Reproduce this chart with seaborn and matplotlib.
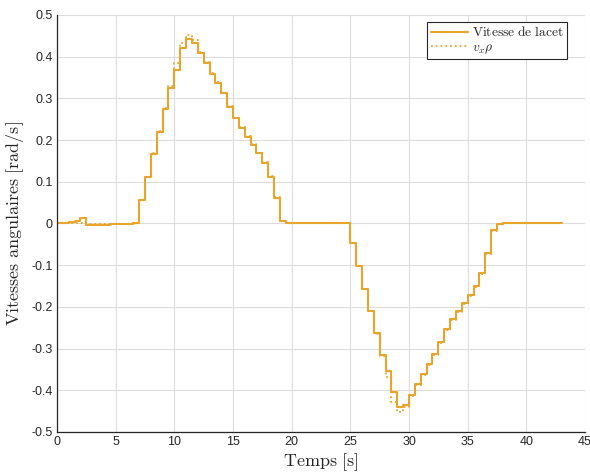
import numpy as np
import pandas as pd
import matplotlib
matplotlib.use("Agg")
import matplotlib.pyplot as plt
import seaborn as sns

# ---- data (sampled every 0.5 s) ----
time_s = [0.0, 0.5, 1.0, 1.5, 2.0, 2.5, 3.0, 3.5, 4.0, 4.5, 5.0, 5.5, 6.0, 6.5,
          7.0, 7.5, 8.0, 8.5, 9.0, 9.5, 10.0, 10.5, 11.0, 11.5, 12.0, 12.5,
          13.0, 13.5, 14.0, 14.5, 15.0, 15.5, 16.0, 16.5, 17.0, 17.5, 18.0,
          18.5, 19.0, 19.5, 20.0, 20.5, 21.0, 21.5, 22.0, 22.5, 23.0, 23.5,
          24.0, 24.5, 25.0, 25.5, 26.0, 26.5, 27.0, 27.5, 28.0, 28.5, 29.0,
          29.5, 30.0, 30.5, 31.0, 31.5, 32.0, 32.5, 33.0, 33.5, 34.0, 34.5,
          35.0, 35.5, 36.0, 36.5, 37.0, 37.5, 38.0, 38.5, 39.0, 39.5, 40.0,
          40.5, 41.0, 41.5, 42.0, 42.5, 43.0]

vitesse_lacet = [0.0, 0.0, 0.004, 0.007, 0.012, -0.004, -0.004, -0.003, -0.003,
                 -0.002, -0.002, -0.001, -0.001, 0.002,
                 0.056, 0.111, 0.167, 0.220, 0.274, 0.325, 0.367, 0.421, 0.442,
                 0.433, 0.410, 0.385, 0.359, 0.337, 0.312, 0.280, 0.252, 0.230,
                 0.207, 0.188, 0.168, 0.146, 0.112, 0.061, 0.006, 0.001,
                 0.0, 0.0, 0.0, 0.0, 0.0, 0.0, 0.0, 0.0, 0.0, 0.0,
                 -0.046, -0.101, -0.156, -0.209, -0.262, -0.315, -0.353, -0.405,
                 -0.439, -0.435, -0.412, -0.386, -0.361, -0.337, -0.314, -0.284,
                 -0.254, -0.230, -0.210, -0.190, -0.171, -0.150, -0.119, -0.070,
                 -0.016, -0.002, 0.0, 0.0, 0.0, 0.0, 0.0, 0.0, 0.0, 0.0, 0.0,
                 0.0, 0.0]

vx_rho = [0.0, 0.0, 0.0, 0.0, 0.0, -0.001, -0.001, -0.001, -0.001,
          -0.001, -0.001, -0.001, -0.001, 0.001,
          0.057, 0.112, 0.168, 0.222, 0.276, 0.329, 0.384, 0.433, 0.453,
          0.440, 0.412, 0.387, 0.361, 0.339, 0.314, 0.282, 0.254, 0.232,
          0.209, 0.190, 0.170, 0.148, 0.114, 0.063, 0.007, 0.001,
          0.0, 0.0, 0.0, 0.0, 0.0, 0.0, 0.0, 0.0, 0.0, 0.0,
          -0.047, -0.102, -0.157, -0.211, -0.264, -0.318, -0.368, -0.428,
          -0.452, -0.440, -0.414, -0.388, -0.363, -0.339, -0.316, -0.286,
          -0.256, -0.232, -0.212, -0.192, -0.173, -0.152, -0.121, -0.072,
          -0.017, -0.002, 0.0, 0.0, 0.0, 0.0, 0.0, 0.0, 0.0, 0.0, 0.0,
          0.0, 0.0]

x_ticks = [0, 5, 10, 15, 20, 25, 30, 35, 40, 45]
y_ticks = [-0.5, -0.4, -0.3, -0.2, -0.1, 0.0, 0.1, 0.2, 0.3, 0.4, 0.5]
y_tick_labels = ["-0.5", "-0.4", "-0.3", "-0.2", "-0.1", "0", "0.1", "0.2",
                 "0.3", "0.4", "0.5"]

labels = [r"$\mathrm{Vitesse\ de\ lacet}$", r"$v_x\rho$"]

# ---- style ----
sns.set_theme(style="white")
plt.rcParams["font.family"] = ["Liberation Sans", "DejaVu Sans"]
plt.rcParams["mathtext.fontset"] = "cm"

color = "#E9A42C"
dark = "#262626"

df = pd.DataFrame({"t": time_s, "lacet": vitesse_lacet, "vxrho": vx_rho})

fig = plt.figure(figsize=(5.9, 4.73), dpi=100)
ax = fig.add_axes([0.0966, 0.0867, 0.895, 0.8816])

sns.lineplot(data=df, x="t", y="lacet", ax=ax, color=color, lw=1.5,
             drawstyle="steps-post", label=labels[0], estimator=None)
sns.lineplot(data=df, x="t", y="vxrho", ax=ax, color=color, lw=1.3,
             linestyle=":", drawstyle="steps-post", label=labels[1],
             estimator=None)

ax.set_xlim(0, 45)
ax.set_ylim(-0.5, 0.5)
ax.set_xticks(x_ticks)
ax.set_xticklabels([str(v) for v in x_ticks])
ax.set_yticks(y_ticks)
ax.set_yticklabels(y_tick_labels)

ax.grid(True, color="#DCDCDC", lw=0.8)
ax.set_axisbelow(True)
for side in ["top", "right"]:
    ax.spines[side].set_visible(False)
for side in ["left", "bottom"]:
    ax.spines[side].set_color(dark)
    ax.spines[side].set_linewidth(0.9)

ax.tick_params(axis="both", direction="in", length=4, width=0.8,
               colors=dark, labelsize=9, pad=3)
ax.tick_params(axis="both", labelcolor=dark)

ax.set_xlabel(r"$\mathrm{Temps\ [s]}$", fontsize=13, color=dark, labelpad=2)
ax.set_ylabel(r"$\mathrm{Vitesses\ angulaires\ [rad/s]}$", fontsize=13,
              color=dark, labelpad=4)

leg = ax.legend(loc="upper right", bbox_to_anchor=(0.966, 0.983),
                fontsize=9.7, frameon=True, fancybox=False, framealpha=1,
                edgecolor=dark, borderpad=0.25, handlelength=2.75,
                handletextpad=0.3, labelspacing=0.15, borderaxespad=0.0)
leg.get_frame().set_linewidth(0.8)
for txt in leg.get_texts():
    txt.set_color(dark)

fig.savefig("out.png", dpi=100)
